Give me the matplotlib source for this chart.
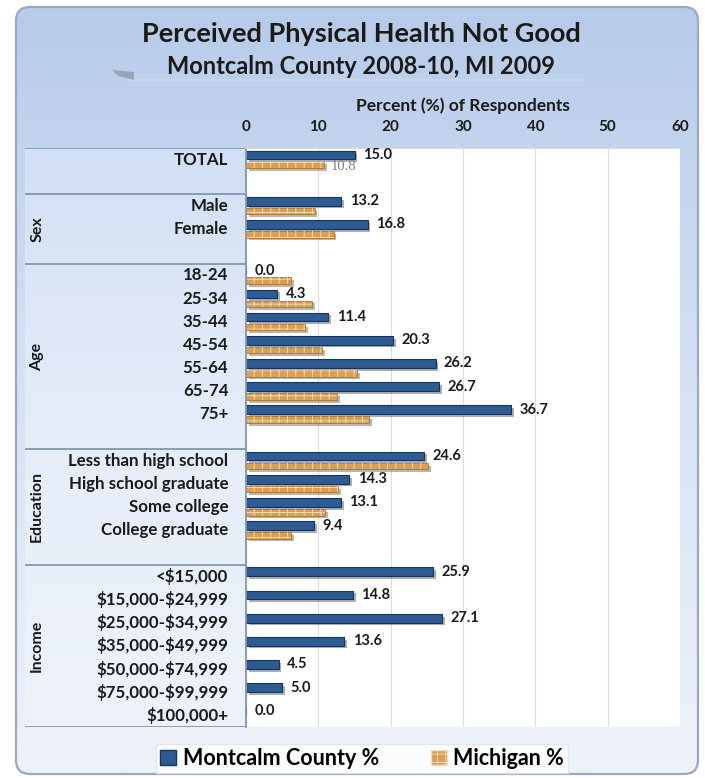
import numpy as np
import matplotlib.pyplot as plt
from matplotlib.patches import FancyBboxPatch, Patch, Polygon
from matplotlib.colors import LinearSegmentedColormap
import matplotlib.patheffects as pe

plt.rcParams['font.family'] = ['Lato', 'DejaVu Sans']
plt.rcParams['hatch.linewidth'] = 0.6

# data
categories = ['TOTAL',
              'Male', 'Female',
              '18-24', '25-34', '35-44', '45-54', '55-64', '65-74', '75+',
              'Less than high school', 'High school graduate', 'Some college', 'College graduate',
              '<$15,000', '$15,000-$24,999', '$25,000-$34,999', '$35,000-$49,999',
              '$50,000-$74,999', '$75,000-$99,999', '$100,000+']
group_names = ['', 'Sex', 'Age', 'Education', 'Income']
group_sizes = [1, 2, 7, 4, 7]
montcalm = [15.0,
            13.2, 16.8,
            0.0, 4.3, 11.4, 20.3, 26.2, 26.7, 36.7,
            24.6, 14.3, 13.1, 9.4,
            25.9, 14.8, 27.1, 13.6, 4.5, 5.0, 0.0]
michigan = [10.8,
            9.5, 12.1,
            6.2, 9.1, 8.2, 10.5, 15.4, 12.6, 17.0,
            25.2, 12.7, 10.9, 6.2,
            np.nan, np.nan, np.nan, np.nan, np.nan, np.nan, np.nan]
xticks = [0, 10, 20, 30, 40, 50, 60]

# rows: one blank row closes every group except the last
ypos = []
seps = [-0.5]
mids = []
r = 0
for i, n in enumerate(group_sizes):
    ypos += list(range(r, r + n))
    end = r + n + (1 if i < len(group_sizes) - 1 else 0)
    seps.append(end - 0.5)
    mids.append((seps[-2] + seps[-1]) / 2)
    r = end
ypos = np.array(ypos, dtype=float)
nrows = r

W, H = 705, 778
fig = plt.figure(figsize=(W / 100, H / 100), dpi=100)

# background panel (pixel coordinates)
bg = fig.add_axes([0, 0, 1, 1])
bg.set_xlim(0, W)
bg.set_ylim(H, 0)
bg.axis('off')
panel = FancyBboxPatch((16, 7), 682, 767, boxstyle='round,pad=0,rounding_size=14',
                       facecolor='none', edgecolor='#9aa9bf', lw=1.6, zorder=3)
bg.add_patch(panel)
cm_panel = LinearSegmentedColormap.from_list('p', ['#b7cbea', '#d6e2f4', '#eef2f9'])
grad = np.linspace(0, 1, 256).reshape(-1, 1)
im = bg.imshow(grad, cmap=cm_panel, extent=[16, 698, 774, 7], aspect='auto', zorder=1)
im.set_clip_path(panel)

# faint ribbon under subtitle
bg.plot([128, 585], [80, 80], color='#cdd6e3', lw=1.5, zorder=2)
bg.add_patch(Polygon([[112, 70], [134, 72], [134, 80], [118, 76]], closed=True,
                     facecolor='#8f9aab', edgecolor='none', alpha=0.8, zorder=2))

# left label panel
x0, x1 = 246, 680
ytop, ybot = 148, 727
cm_left = LinearSegmentedColormap.from_list('l', ['#d2dff4', '#e6edf9', '#eef3fb'])
bg.imshow(grad, cmap=cm_left, extent=[25, x0, ybot, ytop], aspect='auto', zorder=2)

fig.text(361 / W, 1 - 34 / H, 'Perceived Physical Health Not Good', ha='center', va='center',
         fontsize=19.5, fontweight='bold', color='#1a1a1a')
fig.text(361 / W, 1 - 66 / H, 'Montcalm County 2008-10, MI 2009', ha='center', va='center',
         fontsize=17, fontweight='bold', color='#1a1a1a')
fig.text(463 / W, 1 - 106 / H, 'Percent (%) of Respondents', ha='center', va='center',
         fontsize=12.5, fontweight='bold', color='#1a1a1a')

# left axis with the labels
lab = fig.add_axes([25 / W, 1 - ybot / H, (x0 - 25) / W, (ybot - ytop) / H])
lab.set_facecolor('none')
lab.set_xlim(0, 1)
lab.set_ylim(nrows - 0.5, -0.5)
lab.axis('off')
for s in seps:
    lab.axhline(s, color='#8496b0', lw=1.3)
for c, y in zip(categories, ypos):
    lab.text(0.92, y, c.replace('$', r'\$'), ha='right', va='center', fontsize=12.2,
             fontweight='bold', color='#1a1a1a')
for g, m in zip(group_names, mids):
    if g:
        lab.text(0.055, m, g, ha='center', va='center', rotation=90, fontsize=11.5,
                 fontweight='bold', color='#1a1a1a')

# main bar axis
ax = fig.add_axes([x0 / W, 1 - ybot / H, (x1 - x0) / W, (ybot - ytop) / H])
ax.set_facecolor('white')
ax.set_xlim(0, 60)
ax.set_ylim(nrows - 0.5, -0.5)
ax.xaxis.tick_top()
ax.set_xticks(xticks)
ax.set_xticklabels([str(t) for t in xticks], fontsize=11, fontweight='bold', color='#1a1a1a')
ax.tick_params(axis='x', length=0, pad=10)
ax.set_yticks([])
ax.grid(axis='x', color='#dcdcdc', lw=0.8)
ax.set_axisbelow(True)
for sp in ['right', 'bottom']:
    ax.spines[sp].set_visible(False)
ax.spines['top'].set_color('#d0d4da')
ax.spines['top'].set_linewidth(1.2)
ax.spines['left'].set_color('#8496b0')
ax.spines['left'].set_linewidth(1.3)

shadow = [pe.SimplePatchShadow(offset=(2, -2), alpha=0.35), pe.Normal()]
mont = ax.barh(ypos - 0.2, montcalm, height=0.38, color='#2f5b93', edgecolor='#16345c', lw=0.8)
for b in mont:
    b.set_path_effects(shadow)
mich = ax.barh(ypos + 0.23, michigan, height=0.28, color='#d99f55', edgecolor='#b0722a', lw=0.6)
for b in mich:
    b.set_path_effects(shadow)
ax.barh(ypos + 0.23, michigan, height=0.28, fill=False, hatch='++', edgecolor='#f6e1b8', lw=0)

for v, y in zip(montcalm, ypos):
    ax.annotate(f'{v:.1f}', xy=(v, y - 0.2), xytext=(6, 0), textcoords='offset points',
                ha='left', va='center', fontsize=10.5, fontweight='bold', color='#1a1a1a')
ax.annotate(f'{michigan[0]:.1f}', xy=(michigan[0], ypos[0] + 0.3), xytext=(5, 0),
            textcoords='offset points', ha='left', va='center', fontsize=10.5,
            color='#7f7f7f', family='Liberation Serif')

handles = [Patch(facecolor='#2f5b93', edgecolor='#16345c'),
           Patch(facecolor='#d99f55', edgecolor='#f6e1b8', hatch='++')]
leg = fig.legend(handles, ['Montcalm County %', 'Michigan %'], loc='center',
                 bbox_to_anchor=(362 / W, 1 - 758.5 / H), ncol=2, frameon=True, fancybox=False,
                 prop={'size': 15.5, 'weight': 'bold'}, handlelength=0.75, handleheight=0.75,
                 handletextpad=0.3, columnspacing=2.4, borderpad=0.2, borderaxespad=0)
leg.get_frame().set_facecolor('white')
leg.get_frame().set_edgecolor('#e0e4ea')

fig.savefig('out.png', dpi=100)
